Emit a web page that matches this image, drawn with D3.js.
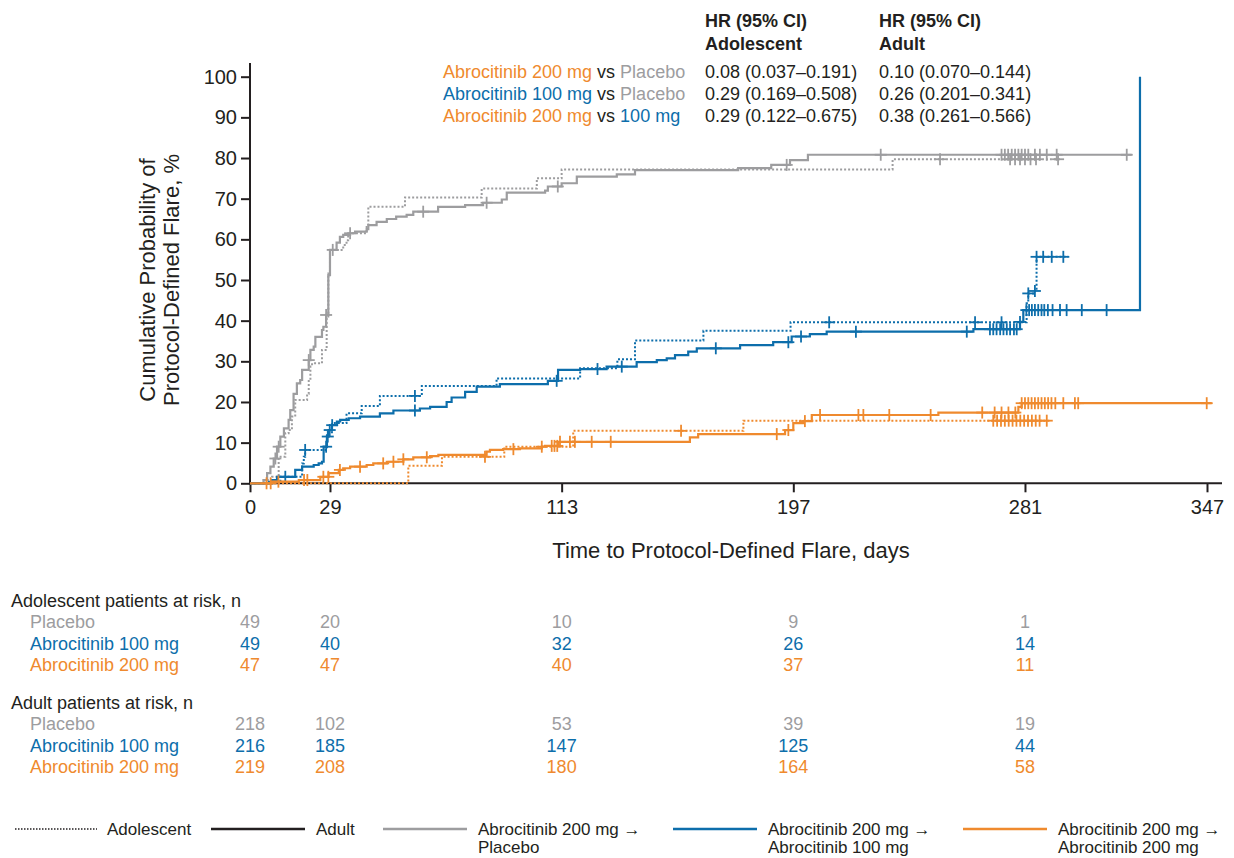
<!DOCTYPE html>
<html>
<head>
<meta charset="utf-8">
<script src="https://cdn.jsdelivr.net/npm/d3@7"></script>
<style>
  body { margin: 0; background: #fff; }
  text { font-family: "Liberation Sans", Arial, sans-serif; }
</style>
</head>
<body>
<script>
// tick labels
const xTicks = [0, 29, 113, 197, 281, 347];
const yTicks = [0, 10, 20, 30, 40, 50, 60, 70, 80, 90, 100];

// arms
const arms = ["Placebo", "Abrocitinib 100 mg", "Abrocitinib 200 mg"];
const armColors = ["#9d9d9f", "#0d6eab", "#ef8a2e"];

// step curves: [day, cumulative %]
const placeboAdult = [[0,0],[4.9,0.8],[6.2,2.5],[7.4,4.1],[8.6,6.1],[9.8,9],[11,11.5],[12.3,13.5],[14,15.6],[14.6,18],[15.8,22],[17,24.6],[18.2,25.4],[18.9,27.9],[21.3,30.3],[21.9,32.8],[23.1,33.6],[23.7,36],[26.1,37.7],[26.6,38.5],[27.6,41.4],[28.4,51.2],[29,57.4],[31.4,59.2],[32.6,60.6],[33.8,61.1],[36.3,61.5],[38.1,61.9],[42.3,62.5],[42.9,63.5],[45.9,64.3],[49.6,65],[53,65.6],[56.8,66],[59.2,66.8],[68.2,68],[78,68.4],[84.5,69],[91.3,69.8],[93.1,71.5],[107,72],[108,73],[113,73.8],[118.5,75.4],[133,76],[139.6,77],[177,77.5],[189,78.3],[195.8,79.5],[202.3,80.8],[319.7,80.8]];
const placeboAdultCensor = [9.2,10.4,21.3,27.6,30,36.3,62.8,85.8,111.6,194.6,228.7,272.5,273.7,274.9,276.2,277.4,278.6,279.8,281,282.2,284.6,286.4,288.9,292.5,317.9];

const placeboAdol = [[0,0],[5,0.8],[8,1.6],[10.4,6.5],[12.8,12.3],[14,13.1],[15.2,16.4],[16.4,20.5],[20.7,22],[21.3,25.4],[21.9,28.7],[22.5,29.5],[26.1,32.8],[27.8,41],[28.4,51.6],[29,57.4],[33.8,58.6],[35,59.8],[35.6,61.5],[42.3,63.5],[42.9,68],[56.2,70.3],[84,72.5],[104,75],[113,77.2],[233,79.7],[293.7,79.7]];
const placeboAdolCensor = [250.2,275.6,277.4,279.2,281,283,285,293];

const a100Adult = [[0,0],[7.9,0.8],[9.8,1.6],[16.4,3.3],[18.9,4.1],[23.1,4.5],[24.9,4.9],[26.1,5.3],[26.7,9],[27.9,11.5],[28.5,13.1],[29.7,14.3],[31.5,15.2],[32.7,15.6],[35.8,16],[39.9,16.4],[47.1,17.2],[52,17.9],[61.6,18.4],[65.3,18.8],[71.3,20],[73.1,21.1],[78,22.5],[82.2,23.8],[90.6,24.4],[108,25.2],[111.7,27.9],[119.7,28.1],[129.3,28.7],[140.2,29.8],[147.5,30.3],[151.1,30.7],[154.1,31.5],[158.9,32.4],[162,33.2],[177.7,34],[189.7,34.7],[196.4,36.1],[203,36.7],[209.1,37.3],[262.3,37.9],[279.2,39.7],[280.4,42.6],[322.7,42.6],[322.7,100]];
const a100AdultCensor = [12.8,27.6,28.2,28.9,29.8,59.8,111.2,126,134.8,168.9,195.2,199.8,219.7,259.9,268.3,269.5,270.7,272,273.2,274.4,275.6,277,278,279.2,281.5,282.5,283.5,284.6,285.8,287,288,289.3,291,293.7,296.1,301.6,310.6];

const a100Adol = [[0,0],[6.8,0.4],[11,1.6],[18.9,4.9],[19.5,6.5],[20,8.2],[27.9,12.3],[29.7,14.8],[35,17.2],[40.5,19],[47.1,21.5],[62.3,23.9],[89.4,25.8],[119.7,28.3],[133.2,30.5],[139.6,35.1],[164.4,37.5],[196,39.6],[281.6,44.3],[282.2,46.7],[284.6,47.3],[285.2,55.7],[296.7,55.7]];
const a100AdolCensor = [20,59.8,210,262.9,272.5,282.2,284.6,285.2,287.6,290.7,294.9];

const a200Adult = [[0,0],[8,0.4],[17.7,0.8],[25.5,1.6],[28.5,2.5],[32.2,3.3],[33.8,3.7],[36.3,4.1],[42.3,4.5],[44.7,4.9],[49.6,5.3],[55.6,5.9],[59.2,6.4],[65.3,6.7],[68.3,7],[85.8,7.8],[87,8.2],[91.8,8.4],[97.9,8.6],[105.8,9],[107,9.2],[111.8,10.2],[159.5,11.3],[162.5,12.1],[194,13.1],[197,14.8],[200.6,15.3],[203.7,16.8],[249.6,17.4],[278.6,18.8],[279.8,19.7],[348.7,19.7]];
const a200AdultCensor = [6,7.5,10.3,19.6,20.8,26.6,28.4,32.6,39.9,48.3,52,55.6,64.1,95.5,105.8,109.4,110.4,111.4,112.4,116,117.8,123.9,130.8,191,195.2,201.2,206.7,220.6,222.4,231.8,246.8,265.5,270,272.5,275,277.5,279.8,281,282.2,283.4,284.6,285.8,287,288.2,289.4,290.6,292,294.9,299.1,300.3,346.9];

const a200Adol = [[0,0],[57.4,4.3],[69.6,6.5],[92.2,9],[117.2,12.9],[178.9,15.4],[290,15.4]];
const a200AdolCensor = [85.2,156.3,269.5,270.9,272.3,273.7,275.1,276.5,277.9,279.3,280.7,282.1,283.5,284.9,286.3,288.9];

// number at risk
const riskDays = [0, 29, 113, 197, 281];
const adolescentAtRisk = [[49,20,10,9,1],[49,40,32,26,14],[47,47,40,37,11]];
const adultAtRisk = [[218,102,53,39,19],[216,185,147,125,44],[219,208,180,164,58]];

// hazard ratios
const hrCompare = [[2, 0, "Placebo"], [1, 0, "Placebo"], [2, 1, "100 mg"]];
const hrAdolescent = ["0.08 (0.037\u20130.191)", "0.29 (0.169\u20130.508)", "0.29 (0.122\u20130.675)"];
const hrAdult = ["0.10 (0.070\u20130.144)", "0.26 (0.201\u20130.341)", "0.38 (0.261\u20130.566)"];

const ink = "#231f20";

const svg = d3.select("body").append("svg")
    .attr("width", 1234)
    .attr("height", 858);

const x = d3.scaleLinear().domain([0, 347]).range([250, 1207]);
const y = d3.scaleLinear().domain([0, 100]).range([483.3, 76.7]);

/**
 * Axes
 */
const xAxis = svg.append("g")
    .attr("transform", "translate(0," + y(0) + ")")
    .call(d3.axisBottom(x).tickValues(xTicks).tickSize(9).tickPadding(8))
    .call(g => g.select(".domain").remove());
xAxis.attr("font-size", 20).attr("font-family", null);
xAxis.selectAll("line").attr("stroke", ink).attr("stroke-width", 2);
xAxis.selectAll("text").attr("fill", ink);
svg.append("line")
    .attr("x1", x(0) - 1).attr("x2", 1222)
    .attr("y1", y(0)).attr("y2", y(0))
    .attr("stroke", ink).attr("stroke-width", 2);

const yAxis = svg.append("g")
    .attr("transform", "translate(" + x(0) + ",0)")
    .call(d3.axisLeft(y).tickValues(yTicks).tickSize(9).tickPadding(4))
    .call(g => g.select(".domain").remove());
yAxis.attr("font-size", 20).attr("font-family", null);
yAxis.selectAll("line").attr("stroke", ink).attr("stroke-width", 2);
yAxis.selectAll("text").attr("fill", ink);
svg.append("line")
    .attr("x1", x(0)).attr("x2", x(0))
    .attr("y1", 63).attr("y2", y(0) + 1)
    .attr("stroke", ink).attr("stroke-width", 2);

svg.append("text")
    .attr("x", (x(0) + 1222) / 2 - 5).attr("y", 558)
    .attr("text-anchor", "middle").attr("font-size", 22).attr("fill", ink)
    .text("Time to Protocol-Defined Flare, days");

const yTitle = svg.append("text")
    .attr("transform", "translate(155,280) rotate(-90)")
    .attr("text-anchor", "middle").attr("font-size", 22).attr("fill", ink);
yTitle.append("tspan").attr("x", 0).attr("y", 0).text("Cumulative Probability of");
yTitle.append("tspan").attr("x", 0).attr("y", 24).text("Protocol-Defined Flare, %");

/**
 * Curves
 */
const curves = [
    { steps: placeboAdol, censor: placeboAdolCensor, arm: 0, dotted: true },
    { steps: a100Adol, censor: a100AdolCensor, arm: 1, dotted: true },
    { steps: a200Adol, censor: a200AdolCensor, arm: 2, dotted: true },
    { steps: placeboAdult, censor: placeboAdultCensor, arm: 0, dotted: false },
    { steps: a100Adult, censor: a100AdultCensor, arm: 1, dotted: false },
    { steps: a200Adult, censor: a200AdultCensor, arm: 2, dotted: false }
];

const line = d3.line()
    .x(d => x(d[0]))
    .y(d => y(d[1]))
    .curve(d3.curveStepAfter);

function valueAt(steps, day) {
    let v = 0;
    steps.forEach(s => { if (s[0] <= day && s[0] !== steps[steps.length - 1][0]) v = s[1]; });
    return v;
}

curves.forEach(c => {
    svg.append("path")
        .datum(c.steps)
        .attr("d", line)
        .attr("fill", "none")
        .attr("stroke", armColors[c.arm])
        .attr("stroke-width", c.dotted ? 2 : 2.2)
        .attr("stroke-dasharray", c.dotted ? "2,2" : null);

    const marks = svg.append("g")
        .attr("stroke", armColors[c.arm])
        .attr("stroke-width", 1.8);
    c.censor.forEach(d => {
        const cx = x(d), cy = y(valueAt(c.steps, d));
        marks.append("line").attr("x1", cx).attr("x2", cx).attr("y1", cy - 6).attr("y2", cy + 6);
        marks.append("line").attr("x1", cx - 6).attr("x2", cx + 6).attr("y1", cy).attr("y2", cy);
    });
});

/**
 * HR table
 */
const hdr = svg.append("g").attr("font-size", 18).attr("font-weight", "bold").attr("fill", ink);
hdr.append("text").attr("x", 705).attr("y", 27).text("HR (95% CI)");
hdr.append("text").attr("x", 705).attr("y", 50).text("Adolescent");
hdr.append("text").attr("x", 879).attr("y", 27).text("HR (95% CI)");
hdr.append("text").attr("x", 879).attr("y", 50).text("Adult");

hrCompare.forEach((r, i) => {
    const yy = 78 + i * 22;
    const t = svg.append("text").attr("x", 443).attr("y", yy).attr("font-size", 18);
    t.append("tspan").attr("fill", armColors[r[0]]).text(arms[r[0]]);
    t.append("tspan").attr("fill", ink).text(" vs ");
    t.append("tspan").attr("fill", armColors[r[1]]).text(r[2]);
    svg.append("text").attr("x", 705).attr("y", yy).attr("font-size", 18).attr("fill", ink).text(hrAdolescent[i]);
    svg.append("text").attr("x", 879).attr("y", yy).attr("font-size", 18).attr("fill", ink).text(hrAdult[i]);
});

/**
 * Number at risk
 */
function riskBlock(title, rows, top) {
    svg.append("text").attr("x", 11).attr("y", top).attr("font-size", 18).attr("fill", ink).text(title);
    rows.forEach((vals, i) => {
        const yy = top + 21 + i * 21.5;
        svg.append("text").attr("x", 30).attr("y", yy).attr("font-size", 18)
            .attr("fill", armColors[i]).text(arms[i]);
        svg.selectAll(null)
            .data(vals)
            .enter().append("text")
            .attr("x", (d, j) => x(riskDays[j]))
            .attr("y", yy)
            .attr("text-anchor", "middle")
            .attr("font-size", 18)
            .attr("fill", armColors[i])
            .text(d => d);
    });
}
riskBlock("Adolescent patients at risk, n", adolescentAtRisk, 607);
riskBlock("Adult patients at risk, n", adultAtRisk, 709);

/**
 * Legend
 */
const legend = svg.append("g").attr("font-size", 17).attr("fill", ink);
legend.append("line").attr("x1", 15).attr("x2", 97).attr("y1", 829).attr("y2", 829)
    .attr("stroke", ink).attr("stroke-width", 1.5).attr("stroke-dasharray", "1.5,1.5");
legend.append("text").attr("x", 107).attr("y", 835).text("Adolescent");
legend.append("line").attr("x1", 211).attr("x2", 305).attr("y1", 829).attr("y2", 829)
    .attr("stroke", ink).attr("stroke-width", 2.5);
legend.append("text").attr("x", 316).attr("y", 835).text("Adult");

const legendArms = [[0, 383, "Placebo"], [1, 673, "Abrocitinib 100 mg"], [2, 963, "Abrocitinib 200 mg"]];
legendArms.forEach(l => {
    legend.append("line").attr("x1", l[1]).attr("x2", l[1] + 84).attr("y1", 829).attr("y2", 829)
        .attr("stroke", armColors[l[0]]).attr("stroke-width", 2.5);
    legend.append("text").attr("x", l[1] + 95).attr("y", 835).text("Abrocitinib 200 mg \u2192");
    legend.append("text").attr("x", l[1] + 95).attr("y", 853).text(l[2]);
});
</script>
</body>
</html>
